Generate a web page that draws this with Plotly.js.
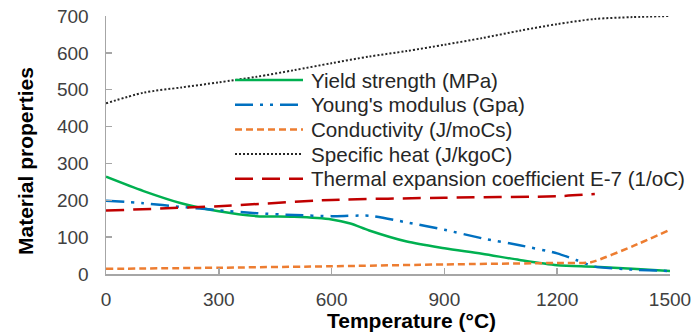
<!DOCTYPE html>
<html>
<head>
<meta charset="utf-8">
<script src="https://cdn.plot.ly/plotly-3.0.1.min.js"></script>
<style>html,body{margin:0;padding:0;background:#fff;}#chart{width:700px;height:332px;}</style>
</head>
<body>
<div id="chart"></div>
<script>
// Temperature (°C)
var tYield = [0, 100, 200, 300, 400, 500, 600, 650, 700, 800, 900, 1000, 1100, 1200, 1300, 1400, 1500];
var yieldStrength = [264, 225, 192, 170, 157, 155, 148, 137, 118, 88, 70, 55, 38, 24, 20, 14, 8];

var tYoung = [0, 100, 200, 300, 400, 500, 600, 700, 800, 900, 1000, 1100, 1200, 1250, 1300, 1400, 1500];
var youngsModulus = [199, 192, 182, 173, 165, 160, 157, 158, 140, 120, 97, 78, 56, 38, 20, 12, 8];

var tCond = [0, 300, 600, 900, 1200, 1290, 1400, 1500];
var conductivity = [14, 17, 21, 26, 30, 32, 75, 120];

var tHeat = [0, 100, 200, 300, 400, 500, 600, 700, 800, 900, 1000, 1100, 1200, 1300, 1400, 1500];
var specificHeat = [463, 492, 506, 520, 535, 553, 572, 590, 605, 622, 640, 660, 678, 692, 697, 700];

var tTherm = [0, 300, 600, 900, 1200, 1300];
var thermalExp = [172, 184, 201, 207, 211, 217];

var names = ["Yield strength (MPa)", "Young's modulus (Gpa)", "Conductivity (J/moCs)", "Specific heat (J/kgoC)", "Thermal expansion coefficient E-7 (1/oC)"];
var xTicks = [0, 300, 600, 900, 1200, 1500];
var yTicks = [0, 100, 200, 300, 400, 500, 600, 700];

var styles = [
  {color: '#00b050', width: 2.5, shape: 'spline', smoothing: 0.8},
  {color: '#0070c0', width: 2.5, shape: 'spline', smoothing: 0.6, dash: '18px,7px,3px,7px,3px,7px'},
  {color: '#ed7d31', width: 2.5, shape: 'spline', smoothing: 0.5, dash: '7px,4px'},
  {color: '#262626', width: 2, shape: 'spline', smoothing: 0.8, dash: '2px,2px'},
  {color: '#c00000', width: 2.5, shape: 'spline', smoothing: 0.6, dash: '18px,9px'}
];
var xs = [tYield, tYoung, tCond, tHeat, tTherm];
var ys = [yieldStrength, youngsModulus, conductivity, specificHeat, thermalExp];

var traces = names.map(function (n, i) {
  return {x: xs[i], y: ys[i], name: n, mode: 'lines', line: styles[i], showlegend: false};
});

// plot area in px: x 106..670, y 16..274
var L = 106, R = 670, T = 16, B = 274;
function px2x(p) { return (p - L) / (R - L); }
function py2y(p) { return (B - p) / (B - T); }

var fontFam = 'Liberation Sans, Arial, sans-serif';
var shapes = [], annotations = [];
var rowY = [80, 104.7, 129.4, 154.1, 178.8];
names.forEach(function (n, i) {
  var st = styles[i];
  shapes.push({type: 'line', xref: 'paper', yref: 'paper',
    x0: px2x(235), x1: px2x(303), y0: py2y(rowY[i]), y1: py2y(rowY[i]),
    line: {color: st.color, width: st.width, dash: st.dash || 'solid'}});
  annotations.push({xref: 'paper', yref: 'paper', x: px2x(309), y: py2y(rowY[i]),
    xanchor: 'left', yanchor: 'middle', showarrow: false, text: n,
    font: {family: fontFam, size: 20.6, color: '#262626'}});
});
annotations.push({xref: 'paper', yref: 'paper', x: px2x(411), y: py2y(321),
  xanchor: 'center', yanchor: 'middle', showarrow: false, text: 'Temperature (°C)',
  font: {family: fontFam, size: 21, color: '#000000', weight: 'bold'}});
annotations.push({xref: 'paper', yref: 'paper', x: px2x(25), y: py2y(161),
  xanchor: 'center', yanchor: 'middle', showarrow: false, text: 'Material properties', textangle: -90,
  font: {family: fontFam, size: 21, color: '#000000', weight: 'bold'}});

var axisColor = '#a6a6a6';
var layout = {
  width: 700, height: 332,
  margin: {l: L, r: 700 - R, t: T, b: 332 - B},
  paper_bgcolor: '#ffffff', plot_bgcolor: '#ffffff',
  font: {family: fontFam, color: '#404040', size: 19},
  showlegend: false,
  shapes: shapes,
  annotations: annotations,
  xaxis: {
    range: [0, 1500], tickvals: xTicks, ticktext: xTicks.map(String),
    showgrid: false, zeroline: false, showline: true, linecolor: axisColor, linewidth: 1.5,
    ticks: 'inside', ticklen: 6, tickcolor: axisColor, tickwidth: 1.5,
    ticklabelstandoff: 8,
    tickfont: {size: 19, color: '#404040'}
  },
  yaxis: {
    range: [0, 700], tickvals: yTicks, ticktext: yTicks.map(String),
    showgrid: false, zeroline: false, showline: true, linecolor: axisColor, linewidth: 1.5,
    ticks: 'inside', ticklen: 6, tickcolor: axisColor, tickwidth: 1.5,
    ticklabelstandoff: 12,
    tickfont: {size: 19, color: '#404040'}
  }
};

Plotly.newPlot('chart', traces, layout, {displayModeBar: false, staticPlot: true});
</script>
</body>
</html>
